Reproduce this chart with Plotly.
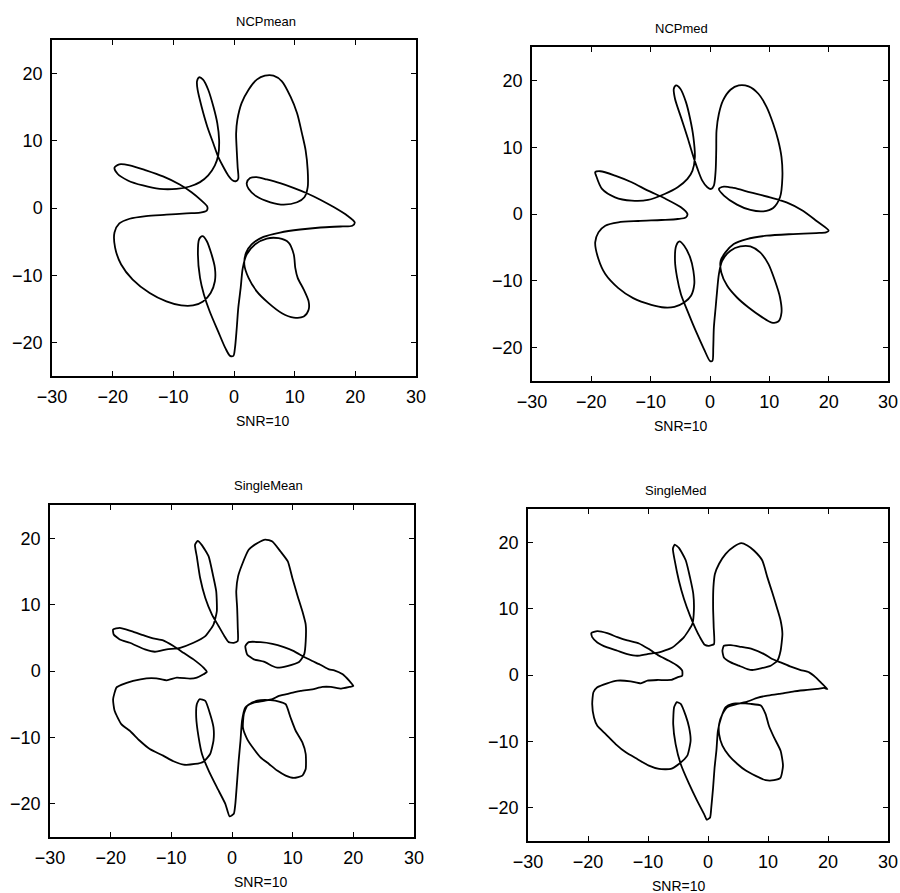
import plotly.graph_objects as go

# Estimated closed curves, one per method (SNR=10)
ncpmean_x = [19.9, 18.7, 16.5, 14.3, 12.0, 9.8, 7.6, 5.4, 3.75, 2.65, 2.1, 2.4, 3.75, 6.0, 8.2, 10.4, 11.6, 12.15,
             12.15, 11.8, 11.2, 10.4, 9.3, 7.9, 6.5, 5.1, 3.75, 2.4, 1.25, 0.55, 0.35, 0.45, 0.6, 0.7, 0.35, -0.2,
             -0.95, -1.75, -2.6, -3.4, -4.4, -5.35, -6.0, -6.1, -5.75, -5.1, -4.25, -3.4, -2.75, -2.45, -2.6, -3.15,
             -4.25, -5.6, -7.3, -9.5, -12.25, -15.0, -17.5, -19.2, -19.7, -18.9, -17.2, -14.5, -11.7, -8.95, -7.0,
             -5.35, -4.4, -4.5, -5.6, -7.85, -11.15, -14.5, -17.2, -18.9, -19.7, -19.6, -18.6, -16.7, -13.9, -11.15,
             -8.7, -6.75, -5.1, -3.85, -3.15, -3.15, -3.7, -4.5, -5.2, -5.75, -5.95, -5.6, -4.95, -4.0, -2.6, -1.4,
             -0.65, -0.1, 0.15, 0.45, 0.7, 1.1, 1.45, 2.1, 3.5, 5.4, 7.35, 9.0, 9.85, 10.1, 10.5, 11.5, 12.3, 12.3,
             11.5, 9.85, 7.9, 5.7, 3.75, 2.4, 1.7, 2.0, 2.9, 4.85, 7.6, 10.9, 14.25, 17.55, 19.5, 19.9]
ncpmean_y = [-2.15, -1.15, 0.1, 1.2, 2.2, 3.0, 3.7, 4.25, 4.6, 4.45, 3.7, 2.85, 1.7, 0.85, 0.5, 0.85, 1.6, 3.1,
             5.6, 8.6, 11.1, 14.1, 16.6, 18.85, 19.7, 19.7, 19.1, 17.6, 15.6, 13.1, 11.1, 8.6, 6.1, 4.35, 4.0, 4.1,
             4.85, 6.1, 7.6, 9.6, 12.1, 15.1, 17.6, 18.85, 19.45, 19.1, 17.6, 15.1, 12.6, 10.1, 7.85, 6.35,
             4.85, 3.85, 3.2, 2.85, 2.85, 3.35, 4.1, 5.1, 6.0, 6.5, 6.35, 5.6, 4.7, 3.5, 2.35,
             1.1, 0.2, -0.4, -0.7, -0.8, -1.0, -1.2, -1.6, -2.3, -3.65, -5.9, -8.4, -10.65, -12.65, -13.9,
             -14.5, -14.5, -13.9, -12.65, -10.9, -8.9, -6.9, -4.9, -4.2, -4.65, -6.9, -10.4, -12.9, -15.4, -18.4, -20.9,
             -22.0, -22.0, -20.9, -17.9, -14.9, -11.9, -8.9, -6.9, -5.4, -4.55, -4.5, -5.15, -6.9, -8.9, -10.4, -12.15,
             -13.9, -15.15, -16.15, -16.3, -15.65, -14.15, -12.4, -10.4, -8.4, -6.65, -5.4, -4.3, -3.65, -3.2, -2.9,
             -2.75, -2.65, -2.15]

ncpmed_x = [20.0, 17.9, 15.65, 12.9, 10.1, 6.8, 4.0, 2.35, 1.5, 2.35, 4.55, 6.8, 9.0, 10.65, 11.8, 12.2, 12.05,
            11.5, 10.65, 9.55, 8.15, 6.5, 4.85, 3.45, 2.2, 1.5, 1.1, 1.05, 0.95, 0.65, 0.2, -0.45, -1.3, -2.1, -2.95,
            -3.8, -4.9, -5.9, -6.1, -5.7, -5.0, -4.05, -3.35, -2.8, -2.55, -2.95, -3.8, -5.45, -7.65, -10.45, -13.2,
            -16.0, -18.2, -19.2, -19.35, -18.5, -16.0, -13.2, -10.45, -7.65, -4.9, -3.8, -4.05, -5.45, -8.2, -12.1,
            -15.45, -17.65, -18.8, -19.35, -18.8, -17.65, -15.45, -12.95, -9.9, -7.65, -6.0, -4.35, -3.2, -2.65, -2.8,
            -3.35, -4.35, -5.15, -5.7, -5.9, -5.55, -4.9, -3.8, -2.4, -1.0, 0.0, 0.4, 0.55, 0.65, 0.95, 1.2, 1.5, 2.05,
            3.45, 5.1, 6.8, 8.45, 9.85, 10.95, 11.8, 12.05, 11.5, 10.4, 8.7, 6.5, 4.55, 2.9, 1.9, 1.8, 2.6, 4.0, 6.2,
            9.55, 14.0, 17.9, 19.55, 20.0]
ncpmed_y = [-2.5, -1.0, 0.5, 1.75, 2.5, 3.25, 3.9, 4.1, 3.75, 2.75, 1.4, 0.6, 0.4, 0.9, 2.5, 5.5, 8.5,
            11.0, 13.5, 16.0, 18.0, 19.1, 19.25, 18.6, 17.0, 15.0, 12.5, 9.5, 6.5, 4.25, 3.75, 4.0, 5.0, 6.75, 9.0,
            11.5, 14.5, 17.25, 18.75, 19.25, 18.75, 16.75, 14.25, 11.5, 8.5, 6.5, 5.25, 4.0, 3.0, 2.1, 2.0,
            2.5, 3.75, 5.75, 6.25, 6.4, 5.75, 4.75, 3.5, 2.35, 1.0, 0.0, -0.5, -0.75, -0.9, -1.05,
            -1.25, -1.75, -2.75, -4.25, -6.75, -9.0, -11.1, -12.6, -13.6, -14.0, -13.9, -13.25, -12.25, -10.5, -8.5,
            -6.5, -4.75, -4.1, -4.75, -7.0, -9.5, -12.0, -14.5, -17.5, -20.25, -22.0, -22.0, -20.0, -17.0, -14.0, -11.5, -9.0, -7.0,
            -5.5, -4.85, -4.85, -5.75, -7.5, -10.0, -12.5, -14.75, -16.1, -16.25, -15.4, -14.0, -12.5, -10.75, -8.75, -7.0, -5.75, -4.5, -3.75,
            -3.25, -3.0, -2.85, -2.75, -2.5]

singlemean_x = [20.0, 19.35, 18.25, 16.85, 16.0, 14.65, 13.25, 11.9, 10.2, 8.55, 6.65, 4.7, 2.75, 2.2, 2.5, 3.6,
                5.25, 6.65, 7.45, 9.1, 11.05, 11.9, 12.15, 12.15, 11.6, 10.75, 9.95, 9.2, 8.0, 6.65, 5.5, 4.15, 2.75,
                1.65, 1.0, 0.7, 0.85, 0.95, 0.95, 0.3, -0.55, -1.25, -2.2, -3.3, -4.4, -5.25, -5.8, -6.1, -5.65, -5.0,
                -3.85, -3.15, -2.6, -2.5, -3.05, -4.4, -6.35, -8.55, -10.75, -12.7, -14.35, -16.85, -18.5, -19.5,
                -19.6, -18.5, -16.6, -14.65, -13.0, -11.35, -9.65, -8.0, -6.35, -4.7, -4.15, -4.7, -5.8, -6.9, -9.1,
                -10.75, -12.45, -14.1, -16.3, -18.25, -19.05, -19.6, -19.35, -18.25, -16.85, -15.2, -13.55, -11.35,
                -9.65, -8.0, -6.1, -4.7, -3.6, -3.05, -3.05, -3.6, -4.4, -5.35, -5.8, -5.9, -5.5, -4.95, -3.85, -2.5,
                -1.1, -0.4, 0.3, 0.55, 0.85, 1.1, 1.4, 1.65, 2.2, 3.3, 4.7, 6.35, 7.75, 8.85, 9.65, 10.5, 11.6, 12.15,
                12.15, 11.6, 10.2, 8.85, 7.45, 6.1, 4.7, 3.6, 2.5, 1.8, 1.95, 2.5, 3.6, 5.25, 6.65, 7.75, 9.65, 11.3,
                13.25, 14.9, 16.3, 18.0, 19.35, 20.0]
singlemean_y = [-2.25, -1.5, -0.5, 0.1, 0.25, 0.9, 1.5, 2.1, 3.0, 3.6, 4.1, 4.35, 4.35, 3.75, 2.5, 1.75,
                1.4, 0.75, 0.5, 0.75, 1.35, 2.5, 4.5, 7.0, 9.0, 11.5, 14.0, 16.5, 18.0, 19.5, 19.8, 19.25, 18.25,
                16.0, 14.25, 12.0, 9.5, 6.5, 4.5, 4.25, 4.35, 5.25, 6.75, 8.5, 11.0, 14.0, 17.25, 19.0, 19.6, 19.0,
                17.25, 14.5, 12.0, 9.0, 7.0, 5.25, 4.25, 3.5, 3.25, 2.9, 3.25, 4.25, 4.75, 5.5,
                6.25, 6.5, 6.0, 5.4, 4.9, 4.6, 3.75, 2.75, 1.75, 0.5, -0.15, -0.5, -1.0, -1.15, -1.0,
                -1.4, -1.1, -1.1, -1.5, -2.1, -2.5, -4.25, -6.0, -8.0, -9.0, -10.5, -11.75, -12.75,
                -13.6, -14.1, -14.0, -13.65, -12.5, -10.5, -8.5, -6.5, -4.5, -4.25, -5.0, -7.0, -10.0, -12.5, -15.0, -17.5,
                -20.0, -21.9, -21.5, -20.0, -16.5, -13.5, -10.5, -7.5, -5.5, -4.75, -4.4, -4.4, -4.6, -5.0, -7.0, -9.0, -10.75, -12.5,
                -14.75, -15.75, -16.1, -15.75, -15.0, -14.0, -13.0, -11.75, -10.25, -8.5, -6.5, -5.25, -4.75, -4.5, -4.25, -3.75, -3.35, -3.0,
                -2.75, -2.4, -2.4, -2.65, -2.4, -2.25]

singlemed_x = [19.9, 19.05, 17.95, 16.85, 15.45, 13.8, 12.1, 10.7, 9.35, 7.4, 5.45, 3.8, 2.65, 2.4, 2.65, 3.8,
               5.15, 6.55, 7.4, 8.8, 10.45, 11.55, 12.1, 12.4, 12.1, 11.55, 10.7, 9.9, 9.05, 7.65, 6.55, 5.55, 4.35,
               2.95, 1.85, 1.15, 0.9, 0.85, 0.95, 1.0, 0.15, -0.55, -1.35, -2.05, -3.0, -4.0, -4.85, -5.55, -5.85,
               -5.55, -4.85, -3.7, -3.0, -2.45, -2.35, -2.6, -4.0, -5.95, -8.15, -10.1, -11.8, -13.45, -15.1, -16.8,
               -18.45, -19.3, -19.45, -18.45, -16.8, -15.1, -13.45, -11.5, -9.85, -8.15, -6.5, -5.1, -4.3, -4.3, -5.1,
               -6.2, -8.45, -10.1, -11.2, -12.9, -15.1, -16.8, -18.45, -19.1, -19.3, -19.0, -18.45, -17.05, -15.4,
               -13.7, -11.8, -9.85, -8.15, -6.2, -4.85, -3.45, -2.9, -3.15, -3.7, -4.55, -5.2, -5.65, -5.8, -5.4,
               -4.55, -3.15, -1.8, -0.65, -0.2, 0.35, 0.55, 0.85, 1.1, 1.4, 1.65, 2.2, 2.95, 4.05, 5.45, 7.1, 8.8, 9.6,
               10.15, 11.0, 12.1, 12.5, 12.1, 11.0, 9.6, 7.95, 6.3, 4.9, 3.5, 2.4, 1.85, 1.85, 2.4, 3.2, 4.9, 6.55,
               8.2, 9.9, 11.85, 14.35, 16.55, 18.2, 19.35, 19.9]
singlemed_y = [-2.1, -1.35, -0.35, 0.4, 0.75, 1.25, 1.9, 2.4, 3.15, 3.9, 4.25, 4.5, 4.4, 3.65, 2.65, 1.9,
               1.4, 0.9, 0.75, 1.0, 1.4, 2.15, 3.65, 6.2, 8.2, 9.95, 12.45, 14.7, 17.25, 18.75, 19.5, 19.85, 19.35,
               18.25, 16.75, 15.2, 13.2, 10.2, 7.2, 4.65, 4.4, 4.55, 5.7, 6.95, 8.95, 11.45, 14.2, 17.25, 19.0,
               19.65, 19.15, 17.25, 14.7, 12.2, 9.7, 7.7, 5.7, 4.15, 3.4, 3.15, 2.9, 3.15, 3.65, 4.15,
               4.9, 5.7, 6.3, 6.6, 6.3, 5.7, 5.2, 4.75, 3.9, 2.9, 2.15, 1.4, 0.65, -0.1, -0.35,
               -0.75, -0.75, -0.85, -1.25, -0.95, -0.85, -1.25, -1.85, -2.6, -4.35, -6.4, -7.65, -8.9, -10.4,
               -11.65, -12.65, -13.65, -14.15, -14.15, -13.4, -12.15, -9.9, -7.9, -6.15, -4.35, -4.1, -4.85, -7.4, -10.4,
               -13.4, -16.4, -18.95, -20.95, -21.8, -21.45, -19.95, -16.95, -13.9, -11.4, -8.4, -6.4, -4.85, -4.35, -4.25, -4.35, -4.6, -5.9,
               -7.65, -9.4, -11.4, -13.65, -15.45, -15.85, -15.85, -15.2, -14.4, -13.4, -12.15, -10.65, -8.9, -7.4, -5.9, -4.85, -4.35, -4.0,
               -3.45, -3.1, -2.85, -2.45, -2.25, -2.1, -1.95, -2.1]

panel_titles = ["NCPmean", "NCPmed", "SingleMean", "SingleMed"]
panel_xlabel = "SNR=10"
x_ticks = [-30, -20, -10, 0, 10, 20, 30]
y_ticks = [-20, -10, 0, 10, 20]

W, H = 900, 893
FONT = "Arial, Liberation Sans, Helvetica, sans-serif"

# Plot-area boxes in page pixels: (left, right, top, bottom)
boxes = [(52, 416, 40, 376), (532, 888, 47, 381), (50, 414, 505, 837), (528, 888, 509, 841)]
curves = [(ncpmean_x, ncpmean_y, 0.8), (ncpmed_x, ncpmed_y, 0.8),
          (singlemean_x, singlemean_y, 0.5), (singlemed_x, singlemed_y, 0.5)]

fig = go.Figure()
for i, ((cx, cy, smooth), (l, r, t, b)) in enumerate(zip(curves, boxes), start=1):
    suffix = "" if i == 1 else str(i)
    fig.add_trace(go.Scatter(x=cx, y=cy, mode="lines",
                             line=dict(color="black", width=1.8, shape="spline", smoothing=smooth),
                             xaxis="x" + suffix, yaxis="y" + suffix, showlegend=False,
                             hoverinfo="skip"))
    axis_common = dict(showline=True, linecolor="black", linewidth=1.5, mirror="ticks",
                       ticks="inside", ticklen=5, tickwidth=1, tickcolor="black",
                       showgrid=False, zeroline=False, automargin=False,
                       tickfont=dict(family=FONT, size=18, color="black"))
    fig.update_layout(**{
        "xaxis" + suffix: dict(domain=[l / W, r / W], range=[-30, 30], tickvals=x_ticks,
                               anchor="y" + suffix, ticklabelstandoff=4, **axis_common),
        "yaxis" + suffix: dict(domain=[1 - b / H, 1 - t / H], range=[-25, 25], tickvals=y_ticks,
                               anchor="x" + suffix, ticklabelstandoff=4, **axis_common),
    })
    cxp = (l + r) / 2
    fig.add_annotation(x=cxp / W, y=1 - (t - 19) / H, xref="paper", yref="paper",
                       text=panel_titles[i - 1], showarrow=False, yanchor="middle",
                       font=dict(family=FONT, size=13, color="black"))
    fig.add_annotation(x=cxp / W, y=1 - (b + 45) / H, xref="paper", yref="paper",
                       text=panel_xlabel, showarrow=False, yanchor="middle",
                       font=dict(family=FONT, size=14, color="black"))

fig.update_layout(width=W, height=H, margin=dict(l=0, r=0, t=0, b=0),
                  paper_bgcolor="white", plot_bgcolor="white")
fig.write_html("out.html")
